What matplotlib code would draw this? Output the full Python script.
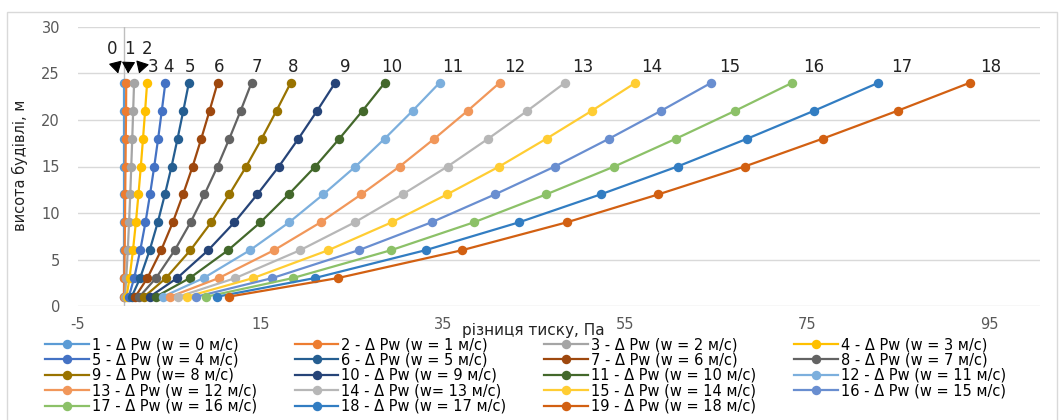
import matplotlib
matplotlib.use("Agg")
import matplotlib.pyplot as plt
from matplotlib.patches import Rectangle

plt.rcParams["font.family"] = ["DejaVu Sans"]
plt.rcParams["axes.unicode_minus"] = False

# ── Data ──────────────────────────────────────────────────────────────────────
heights = [1, 3, 6, 9, 12, 15, 18, 21, 24]          # висота, м
wind_speeds = list(range(19))                        # w, м/с

# ΔPw, Па for every wind speed (rows) at each height (columns)
dp_values = [
    [0, 0, 0, 0, 0, 0, 0, 0, 0],
    [0.04, 0.07, 0.12, 0.15, 0.18, 0.21, 0.24, 0.27, 0.29],
    [0.14, 0.29, 0.46, 0.60, 0.73, 0.84, 0.95, 1.05, 1.15],
    [0.32, 0.65, 1.03, 1.35, 1.63, 1.89, 2.13, 2.36, 2.58],
    [0.57, 1.16, 1.83, 2.40, 2.90, 3.36, 3.79, 4.19, 4.58],
    [0.89, 1.81, 2.86, 3.75, 4.53, 5.26, 5.92, 6.55, 7.16],
    [1.28, 2.61, 4.12, 5.40, 6.52, 7.57, 8.52, 9.43, 10.31],
    [1.74, 3.55, 5.61, 7.35, 8.87, 10.30, 11.60, 12.84, 14.03],
    [2.27, 4.64, 7.33, 9.61, 11.59, 13.45, 15.15, 16.77, 18.33],
    [2.88, 5.87, 9.28, 12.16, 14.66, 17.03, 19.18, 21.23, 23.20],
    [3.55, 7.25, 11.46, 15.01, 18.10, 21.02, 23.67, 26.21, 28.64],
    [4.30, 8.77, 13.86, 18.16, 21.90, 25.43, 28.64, 31.71, 34.65],
    [5.11, 10.43, 16.50, 21.61, 26.06, 30.27, 34.09, 37.74, 41.24],
    [6.00, 12.25, 19.36, 25.36, 30.59, 35.53, 40.00, 44.29, 48.40],
    [6.96, 14.20, 22.45, 29.41, 35.47, 41.20, 46.39, 51.36, 56.13],
    [7.99, 16.30, 25.78, 33.77, 40.73, 47.30, 53.26, 58.96, 64.44],
    [9.09, 18.55, 29.33, 38.42, 46.34, 53.82, 60.60, 67.09, 73.32],
    [10.26, 20.94, 33.11, 43.37, 52.31, 60.75, 68.41, 75.74, 82.77],
    [11.51, 23.48, 37.12, 48.62, 58.64, 68.11, 76.69, 84.90, 92.79],
]

series_labels = [f"{i + 1} - Δ Pw (w = {w} м/с)" for i, w in enumerate(wind_speeds)]
series_labels[8] = "9 - Δ Pw (w= 8 м/с)"
series_labels[13] = "14 - Δ Pw (w= 13 м/с)"

COLORS = ["#5B9BD5", "#ED7D31", "#A5A5A5", "#FFC000", "#4472C4", "#255E91",
          "#9E480E", "#636363", "#997300", "#264478", "#43682B", "#7CAFDD",
          "#F1975A", "#B7B7B7", "#FFCD33", "#698ED0", "#8CC168", "#327DC2",
          "#D26012"]

# x position of the curve numbers above the top points
num_x = [None, None, None, 3.2, 4.9, 7.3, 10.5, 14.6, 18.6, 24.3, 29.4, 36.1,
         42.9, 50.3, 57.9, 66.5, 75.7, 85.3, 95.1]

# ── Figure ────────────────────────────────────────────────────────────────────
W, H = 1063, 420
fig = plt.figure(figsize=(W / 100, H / 100), dpi=100, facecolor="white")
ax = fig.add_axes([78 / W, 1 - 306 / H, (1040 - 78) / W, (306 - 27) / H])

lines = []
for i, vals in enumerate(dp_values):
    ln, = ax.plot(vals, heights, color=COLORS[i], lw=1.6, marker="o",
                  markersize=6.8, markeredgewidth=0, label=series_labels[i],
                  zorder=3 + i * 0.01)
    lines.append(ln)

ax.set_xlim(-5, 100.5)
ax.set_ylim(0, 30)
ax.set_xticks(range(-5, 100, 20))
ax.set_yticks(range(0, 31, 5))
ax.tick_params(length=0, labelsize=10.5, labelcolor="#595959")
ax.tick_params(axis="x", pad=8)
ax.tick_params(axis="y", pad=13)
for s in ax.spines.values():
    s.set_visible(False)
ax.yaxis.grid(True, color="#D9D9D9", lw=1)
ax.set_axisbelow(True)
ax.axvline(0, color="#BFBFBF", lw=1, zorder=1)

ax.set_xlabel("різниця тиску, Па", fontsize=11, color="#222222")
ax.xaxis.set_label_coords(0.473, -0.062)
ax.set_ylabel("висота будівлі, м", fontsize=10.5, color="#222222")
ax.yaxis.set_label_coords(-0.052, 0.505)

# curve numbers
for i in range(3, 19):
    ax.text(num_x[i], 25.75, str(i), ha="center", va="center", fontsize=12,
            color="#222222")

# 0, 1, 2 with arrows to their (overlapping) curves
arrow_lbl = [(-1.27, 27.6), (0.59, 27.6), (2.55, 27.6)]
arrow_tip = [(-0.6, 25.0), (0.5, 25.0), (1.7, 25.0)]
for i in range(3):
    ax.annotate(str(i), xy=arrow_tip[i], xytext=arrow_lbl[i], ha="center",
                va="center", fontsize=12, color="#222222",
                arrowprops=dict(arrowstyle="-|>,head_length=0.6,head_width=0.35",
                                color="black", lw=0.8, shrinkA=5, shrinkB=0))

# legend, filled row by row in 4 columns
order = [0, 4, 8, 12, 16, 1, 5, 9, 13, 17, 2, 6, 10, 14, 18, 3, 7, 11, 15]
fig.legend([lines[k] for k in order], [series_labels[k] for k in order],
           loc="upper left", bbox_to_anchor=(45 / W, 1 - 337 / H), ncol=4,
           frameon=False, fontsize=10.5, handlelength=3.0, handletextpad=0.2,
           columnspacing=2.6, labelspacing=0.03, borderaxespad=0,
           borderpad=0)

# chart border
fig.add_artist(Rectangle((7 / W, -0.05), (1057 - 7) / W, 1.05 - 12 / H,
                         transform=fig.transFigure, fill=False,
                         edgecolor="#D9D9D9", lw=1))

fig.savefig("out.png", dpi=100, facecolor="white")
